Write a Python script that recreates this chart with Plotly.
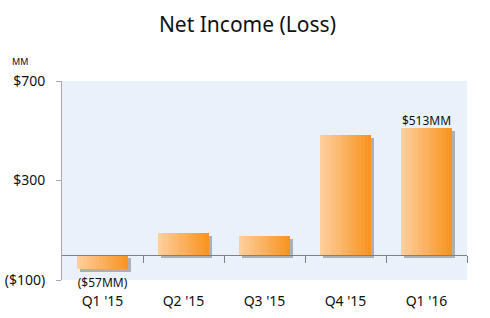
import plotly.graph_objects as go

quarters = ["Q1 '15", "Q2 '15", "Q3 '15", "Q4 '15", "Q1 '16"]
net_income = [-57, 90, 78, 482, 513]
value_labels = ["($57MM)", "", "", "", "$513MM"]
y_tickvals = [-100, 300, 700]
y_ticktext = ["($100)", "$300", "$700"]

Y_MIN, Y_MAX = -100, 700
BAR_W = 0.63
N_SLICES = 16
SHADOW_DX = 0.037
SHADOW_DY = 12
NEG_LABEL_GAP = 36

xpos = list(range(len(quarters)))

def lerp(c1, c2, t):
    return "rgb(%d,%d,%d)" % tuple(round(a + (b - a) * t) for a, b in zip(c1, c2))

LIGHT = (254, 206, 156)
DARK = (248, 148, 32)

fig = go.Figure()

# shadow
fig.add_trace(go.Bar(
    x=xpos, y=net_income, base=[-SHADOW_DY] * len(xpos),
    width=BAR_W, offset=-BAR_W / 2 + SHADOW_DX,
    marker=dict(color="rgba(110,110,110,0.5)", line=dict(width=0)),
    hoverinfo="skip", showlegend=False,
))

# gradient slices
sw = BAR_W / N_SLICES
for i in range(N_SLICES):
    t = i / (N_SLICES - 1)
    fig.add_trace(go.Bar(
        x=xpos, y=net_income,
        width=sw * (1.15 if i < N_SLICES - 1 else 1.0),
        offset=-BAR_W / 2 + i * sw,
        marker=dict(color=lerp(LIGHT, DARK, t), line=dict(width=0)),
        hoverinfo="skip", showlegend=False,
    ))

# value labels
lab_y = [v - NEG_LABEL_GAP if v < 0 else v for v in net_income]
lab_pos = ["bottom center" if v < 0 else "top center" for v in net_income]
fig.add_trace(go.Scatter(
    x=xpos, y=lab_y, mode="text", text=value_labels, textposition=lab_pos,
    textfont=dict(family="Noto Sans", size=12, color="#111"),
    cliponaxis=False, hoverinfo="skip", showlegend=False,
))

# invisible trace for the zero-axis with boundary ticks
fig.add_trace(go.Scatter(
    x=xpos, y=[0] * len(xpos), xaxis="x2", mode="markers",
    marker=dict(opacity=0), hoverinfo="skip", showlegend=False,
))

zero_pos = (0 - Y_MIN) / (Y_MAX - Y_MIN)

fig.update_layout(
    width=490, height=318,
    margin=dict(l=62, r=23, t=81, b=38),
    paper_bgcolor="white",
    plot_bgcolor="#EAF1FB",
    barmode="overlay",
    bargap=0,
    font=dict(family="Noto Sans", color="#111"),
    title=dict(
        text="Net Income (Loss)", x=0.505, xanchor="center",
        y=1 - 25 / 318, yanchor="middle",
        font=dict(family="Noto Sans", size=21, color="#111"),
    ),
    xaxis=dict(
        range=[-0.5, 4.5], tickvals=xpos, ticktext=quarters,
        showgrid=False, zeroline=False, showline=False, ticks="",
        tickfont=dict(size=14, color="#111"), ticklabelstandoff=11,
        automargin=False, fixedrange=True,
    ),
    xaxis2=dict(
        range=[-0.5, 4.5], overlaying="x", anchor="free", position=zero_pos,
        tickvals=[i + 0.5 for i in xpos], showticklabels=False,
        ticks="outside", ticklen=7, tickcolor="#808080", tickwidth=1,
        showline=True, linecolor="#808080", linewidth=1,
        showgrid=False, zeroline=False, automargin=False,
    ),
    yaxis=dict(
        range=[Y_MIN, Y_MAX], tickvals=y_tickvals, ticktext=y_ticktext,
        showgrid=False, zeroline=False,
        showline=True, linecolor="#A8A8A8", linewidth=1,
        ticks="outside", ticklen=5, tickcolor="#A8A8A8",
        tickfont=dict(size=14, color="#111"), ticklabelstandoff=8,
        automargin=False,
    ),
    annotations=[dict(
        text="MM", xref="paper", yref="paper",
        x=(10 - 62) / 405, y=(280 - 61) / 199,
        xanchor="left", yanchor="middle", showarrow=False,
        font=dict(family="Noto Sans", size=9, color="#111"),
    )],
)

fig.write_html("out.html")
